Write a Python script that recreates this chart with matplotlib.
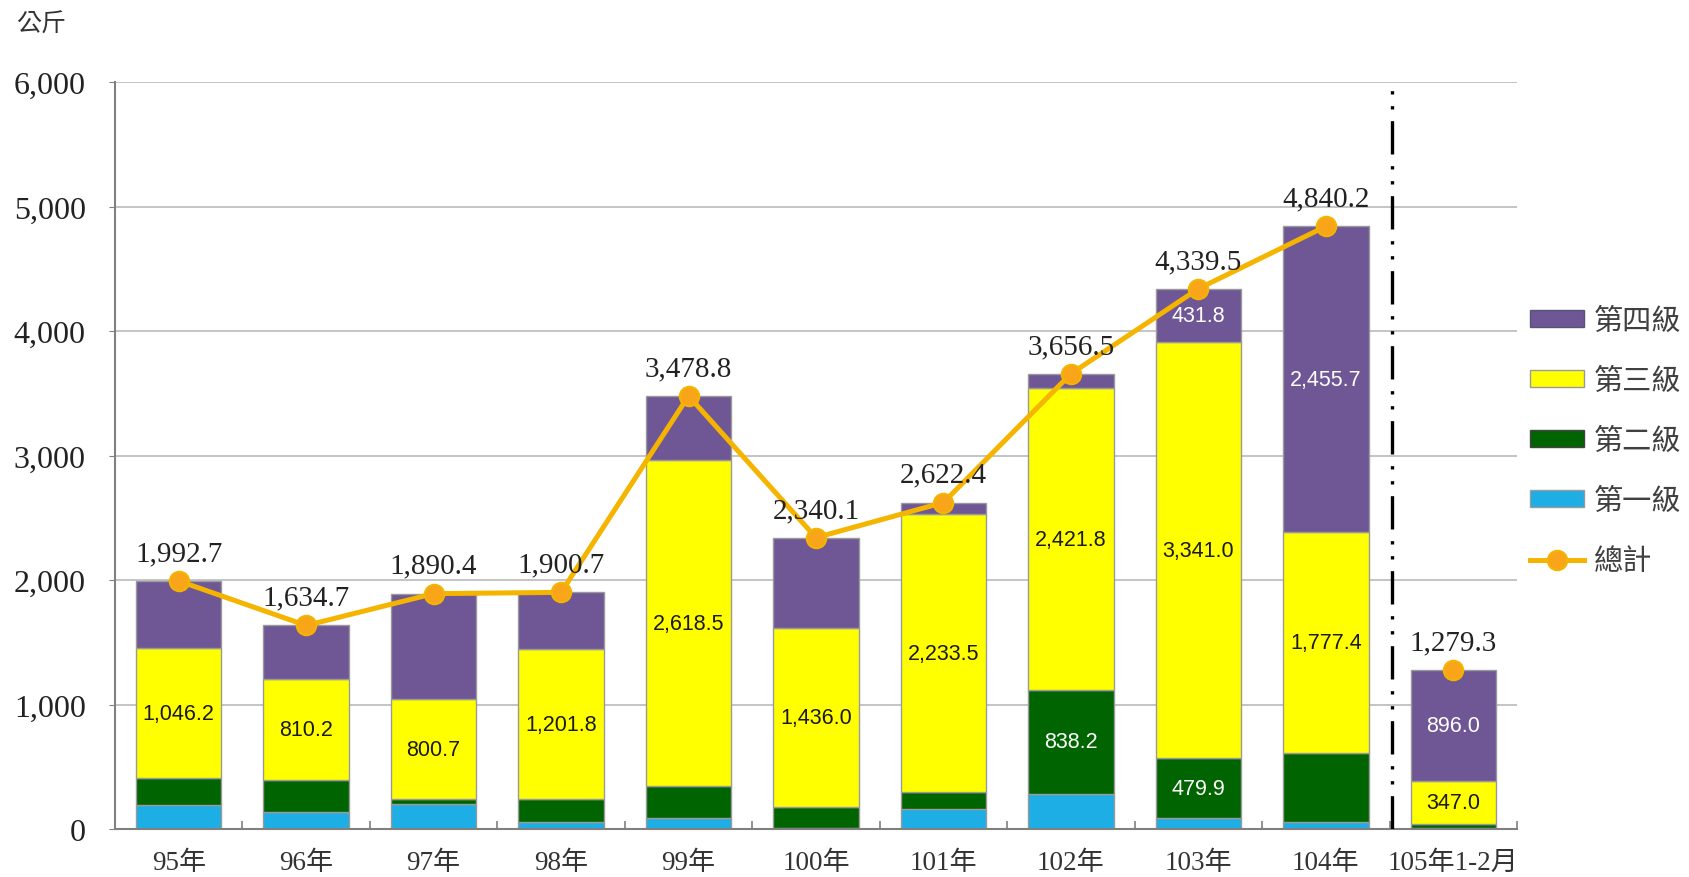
import matplotlib
matplotlib.use("Agg")
import matplotlib.pyplot as plt
from matplotlib import font_manager
from matplotlib.patches import Patch
from matplotlib.lines import Line2D
import numpy as np

# ---------------- data ----------------
categories = ["95年", "96年", "97年", "98年", "99年", "100年", "101年", "102年", "103年", "104年", "105年1-2月"]
level1 = [190, 136, 200, 56, 88, 8, 160, 280, 86.8, 55, 10]
level2 = [218, 256, 40, 184, 256, 168, 136, 838.2, 479.9, 552.1, 26.3]
level3 = [1046.2, 810.2, 800.7, 1201.8, 2618.5, 1436.0, 2233.5, 2421.8, 3341.0, 1777.4, 347.0]
level4 = [538.5, 432.5, 849.7, 458.9, 516.3, 728.1, 92.9, 116.5, 431.8, 2455.7, 896.0]
totals = [1992.7, 1634.7, 1890.4, 1900.7, 3478.8, 2340.1, 2622.4, 3656.5, 4339.5, 4840.2, 1279.3]
label_level2 = [False, False, False, False, False, False, False, True, True, False, False]
label_level3 = [True] * 11
label_level4 = [False, False, False, False, False, False, False, False, True, True, True]
series_names = ["第一級", "第二級", "第三級", "第四級"]
total_name = "總計"
unit_label = "公斤"
yticks = [0, 1000, 2000, 3000, 4000, 5000, 6000]
n_annual = 10  # the line connects the full years only

# ---------------- style ----------------
names = {f.name for f in font_manager.fontManager.ttflist}
inner_font = "Liberation Sans Narrow" if "Liberation Sans Narrow" in names else "Liberation Sans"
serif_mix = ["Liberation Serif", "Noto Sans CJK TC"]

c_blue = "#1EAEE6"
c_green = "#006400"
c_yellow = "#FFFF00"
c_purple = "#6F5695"
c_line = "#F5B400"
c_marker = "#F9A51A"
edge = "#9A9A9A"

fig = plt.figure(figsize=(16.9, 8.78), dpi=100)
ax = fig.add_axes([115 / 1690, 48 / 878, (1517 - 115) / 1690, (830 - 83) / 878])

x = np.arange(len(categories))
w = 0.67
l1 = np.array(level1)
l2 = np.array(level2)
l3 = np.array(level3)
l4 = np.array(level4)

ax.bar(x, l1, w, color=c_blue, edgecolor=edge, linewidth=1, zorder=2)
ax.bar(x, l2, w, bottom=l1, color=c_green, edgecolor=edge, linewidth=1, zorder=2)
ax.bar(x, l3, w, bottom=l1 + l2, color=c_yellow, edgecolor=edge, linewidth=1, zorder=2)
ax.bar(x, l4, w, bottom=l1 + l2 + l3, color=c_purple, edgecolor=edge, linewidth=1, zorder=2)

mk = dict(marker="o", markersize=14, markerfacecolor=c_marker, markeredgecolor=c_line, markeredgewidth=1.5)
ax.plot(x[:n_annual], totals[:n_annual], color=c_line, lw=3.6, zorder=5, **mk)
ax.plot(x[n_annual:], totals[n_annual:], linestyle="none", zorder=5, **mk)

# segment labels
for i in range(len(x)):
    if label_level2[i]:
        ax.text(x[i], l1[i] + l2[i] / 2, f"{l2[i]:,.1f}", ha="center", va="center",
                color="white", fontsize=15.5, family=inner_font, zorder=4)
    if label_level3[i]:
        ax.text(x[i], l1[i] + l2[i] + l3[i] / 2, f"{l3[i]:,.1f}", ha="center", va="center",
                color="#1a1a1a", fontsize=15.5, family=inner_font, zorder=4)
    if label_level4[i]:
        ax.text(x[i], l1[i] + l2[i] + l3[i] + l4[i] / 2, f"{l4[i]:,.1f}", ha="center", va="center",
                color="white", fontsize=15.5, family=inner_font, zorder=4)
    ax.annotate(f"{totals[i]:,.1f}", (x[i], totals[i]), xytext=(0, 20), textcoords="offset points",
                ha="center", va="center", fontsize=21, family="Liberation Serif", color="#222222", zorder=6)

# divider
ax.axvline(9.52, ymin=0, ymax=0.995, color="black", lw=2.4, linestyle=(0, (10, 3.5, 1, 3.5, 1, 3.5)), zorder=3)

# axes styling
ax.set_xlim(-0.5, len(categories) - 0.5)
ax.set_ylim(0, 6000)
ax.set_yticks(yticks)
ax.set_yticklabels([f"{v:,}" for v in yticks], family="Liberation Serif", fontsize=23, color="#222222")
ax.set_xticks(x)
ax.set_xticklabels(categories, family=serif_mix, fontsize=19.5, color="#333333")
ax.set_xticks(np.arange(-0.5, len(categories), 1.0), minor=True)
ax.tick_params(axis="x", which="major", length=0, pad=15)
ax.tick_params(axis="x", which="minor", length=6, direction="in", color="#808080", width=1.2)
ax.tick_params(axis="y", which="major", length=4, color="#808080", pad=17)
ax.yaxis.grid(True, color="#BFBFBF", lw=1.3, zorder=0)
ax.set_axisbelow(True)
for s in ["top", "right"]:
    ax.spines[s].set_visible(False)
for s in ["left", "bottom"]:
    ax.spines[s].set_color("#808080")
    ax.spines[s].set_linewidth(1.5)

fig.text(16 / 1690, 1 - 25 / 878, unit_label, family=["Noto Sans CJK TC"], fontsize=18,
         color="#333333", ha="left", va="center")

handles = [Patch(facecolor=c_purple, edgecolor="#555577"),
           Patch(facecolor=c_yellow, edgecolor=edge),
           Patch(facecolor=c_green, edgecolor="#444444"),
           Patch(facecolor=c_blue, edgecolor=edge),
           Line2D([0], [0], color=c_line, lw=3.6, **mk)]
labels = [series_names[3], series_names[2], series_names[1], series_names[0], total_name]
leg = fig.legend(handles, labels, loc="center left", bbox_to_anchor=(1530 / 1690, 1 - 442 / 878),
                 frameon=False, prop={"family": "Noto Sans CJK TC", "size": 21},
                 handlelength=1.85, handleheight=0.52, handletextpad=0.35, labelspacing=1.03,
                 borderpad=0, borderaxespad=0)
for t in leg.get_texts():
    t.set_color("#404040")

fig.savefig("out.png", dpi=100)
